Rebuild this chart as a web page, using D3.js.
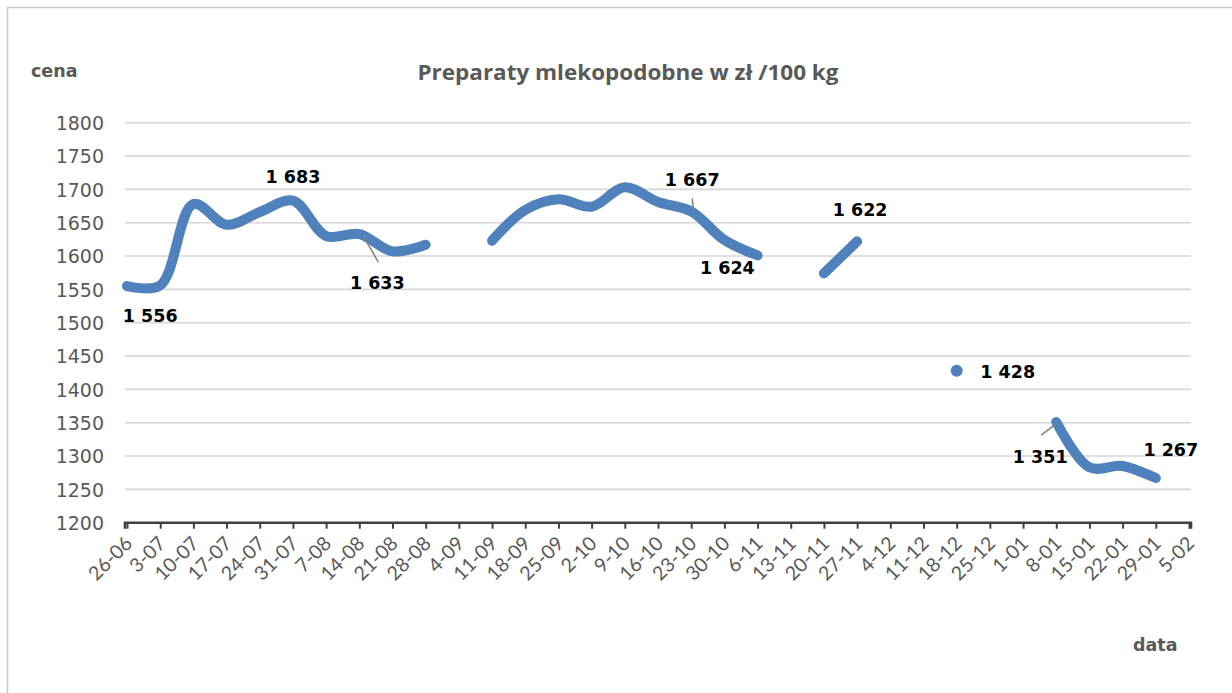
<!DOCTYPE html>
<html><head><meta charset="utf-8">
<script src="https://cdn.jsdelivr.net/npm/d3@7"></script>
<style>html,body{margin:0;padding:0;background:#fff;} svg{display:block}</style>
</head><body><svg id="chart" width="1232" height="693"></svg>
<script>
// ---- data ----
const categories = ["26-06","3-07","10-07","17-07","24-07","31-07","7-08","14-08","21-08","28-08","4-09","11-09","18-09","25-09","2-10","9-10","16-10","23-10","30-10","6-11","13-11","20-11","27-11","4-12","11-12","18-12","25-12","1-01","8-01","15-01","22-01","29-01","5-02"];
const prices = [1555,1556,1678,1647,1666,1683,1630,1633,1607,1617,null,1623,1669,1685,1674,1703,1681,1667,1624,1601,null,1574,1622,null,null,1428,null,null,1351,1283,1285,1267,null];
const yTicks = [1200,1250,1300,1350,1400,1450,1500,1550,1600,1650,1700,1750,1800];
const labelledIdx = [1,5,7,17,18,22,25,28,31];
const chartTitle = "Preparaty mlekopodobne w zł /100 kg";
const yAxisTitle = "cena";
const xAxisTitle = "data";

// ---- layout (positions only) ----
const labelOffsets = {1:[-10,37],5:[0,-18],7:[18,55],17:[1,-25],18:[3,34],22:[3,-25],25:[51,7],28:[-16,41],31:[15,-22]};
const leaderOffsets = {7:[[4,2],[19,28]],17:[[1,-13],[2.5,0]],28:[[-15,13],[0.6,1]]};

const svg = d3.select("#chart");
const x = d3.scalePoint().domain(categories).range([127,1189]);
const y = d3.scaleLinear().domain([1200,1800]).range([522.7,122.7]);
const grey = "#595959";
const blue = "#4f81bd";

// chart border (left/top visible)
svg.append("rect").attr("x",7.5).attr("y",7.5).attr("width",1300).attr("height",1300)
  .attr("fill","none").attr("stroke","#c8c8c8").attr("stroke-width",1.5);

// gridlines
svg.append("g").selectAll("line").data(yTicks.filter(d=>d>1200)).join("line")
  .attr("x1",125).attr("x2",1191).attr("y1",d=>y(d)).attr("y2",d=>y(d))
  .attr("stroke","#d6d6d6").attr("stroke-width",1.6);

// y axis labels
const yAxis = d3.axisLeft(y).tickValues(yTicks).tickSize(0).tickPadding(0).tickFormat(d3.format("d"));
const gy = svg.append("g").attr("transform","translate(104,0)").call(yAxis);
gy.select(".domain").remove();
gy.selectAll("text").attr("font-family","DejaVu Sans").attr("font-size",19).attr("fill",grey).attr("dy","0.36em");

// x axis
const xAxis = d3.axisBottom(x).tickSize(6).tickSizeOuter(0).tickFormat(d=>d);
const gx = svg.append("g").attr("transform",`translate(0,${y(1200)})`).call(xAxis);
gx.select(".domain").attr("stroke","#404040").attr("stroke-width",2.6)
  .attr("d",`M125,6V0H1191V6`);
gx.selectAll(".tick line").attr("stroke","#404040").attr("stroke-width",2);
gx.selectAll(".tick text")
  .attr("font-family","Lato").attr("font-size",19.5).attr("fill",grey)
  .attr("text-anchor","end").attr("dy",null).attr("y",null)
  .attr("transform","translate(6,22) rotate(-45)");

// line
const line = d3.line().defined(d=>d.v!=null).x(d=>x(d.c)).y(d=>y(d.v)).curve(d3.curveCatmullRom.alpha(0.5));
const pts = categories.map((c,i)=>({c,v:prices[i],i}));
svg.append("path").datum(pts).attr("d",line).attr("fill","none").attr("stroke",blue)
  .attr("stroke-width",10).attr("stroke-linecap","round").attr("stroke-linejoin","round");

// isolated points
const isolated = pts.filter((d,i)=>d.v!=null && (i===0||prices[i-1]==null) && (i===prices.length-1||prices[i+1]==null));
svg.append("g").selectAll("circle").data(isolated).join("circle")
  .attr("cx",d=>x(d.c)).attr("cy",d=>y(d.v)).attr("r",6).attr("fill",blue);

// leaders
const fmt = d3.formatLocale({decimal:",",thousands:" ",grouping:[3],currency:["",""]}).format(",d");
svg.append("g").selectAll("line").data(labelledIdx.filter(i=>leaderOffsets[i])).join("line")
  .attr("x1",i=>x(categories[i])+leaderOffsets[i][0][0]).attr("y1",i=>y(prices[i])+leaderOffsets[i][0][1])
  .attr("x2",i=>x(categories[i])+leaderOffsets[i][1][0]).attr("y2",i=>y(prices[i])+leaderOffsets[i][1][1])
  .attr("stroke","#7f7f7f").attr("stroke-width",1.5);

// data labels
svg.append("g").selectAll("text").data(labelledIdx).join("text")
  .attr("x",i=>x(categories[i])+labelOffsets[i][0]).attr("y",i=>y(prices[i])+labelOffsets[i][1])
  .attr("text-anchor","middle").attr("font-family","DejaVu Sans").attr("font-weight","bold")
  .attr("font-size",17.5).attr("fill","#000").text(i=>fmt(prices[i]));

// titles
svg.append("text").attr("x",628).attr("y",80).attr("text-anchor","middle")
  .attr("font-family","Open Sans").attr("font-weight",700).attr("font-size",22)
  .attr("textLength",421).attr("lengthAdjust","spacingAndGlyphs").attr("fill",grey).text(chartTitle);
svg.append("text").attr("x",31).attr("y",77).attr("font-family","DejaVu Sans").attr("font-weight","bold")
  .attr("font-size",17.5).attr("fill",grey).text(yAxisTitle);
svg.append("text").attr("x",1133).attr("y",651).attr("font-family","DejaVu Sans").attr("font-weight","bold")
  .attr("font-size",17.5).attr("fill",grey).text(xAxisTitle);
</script></body></html>
